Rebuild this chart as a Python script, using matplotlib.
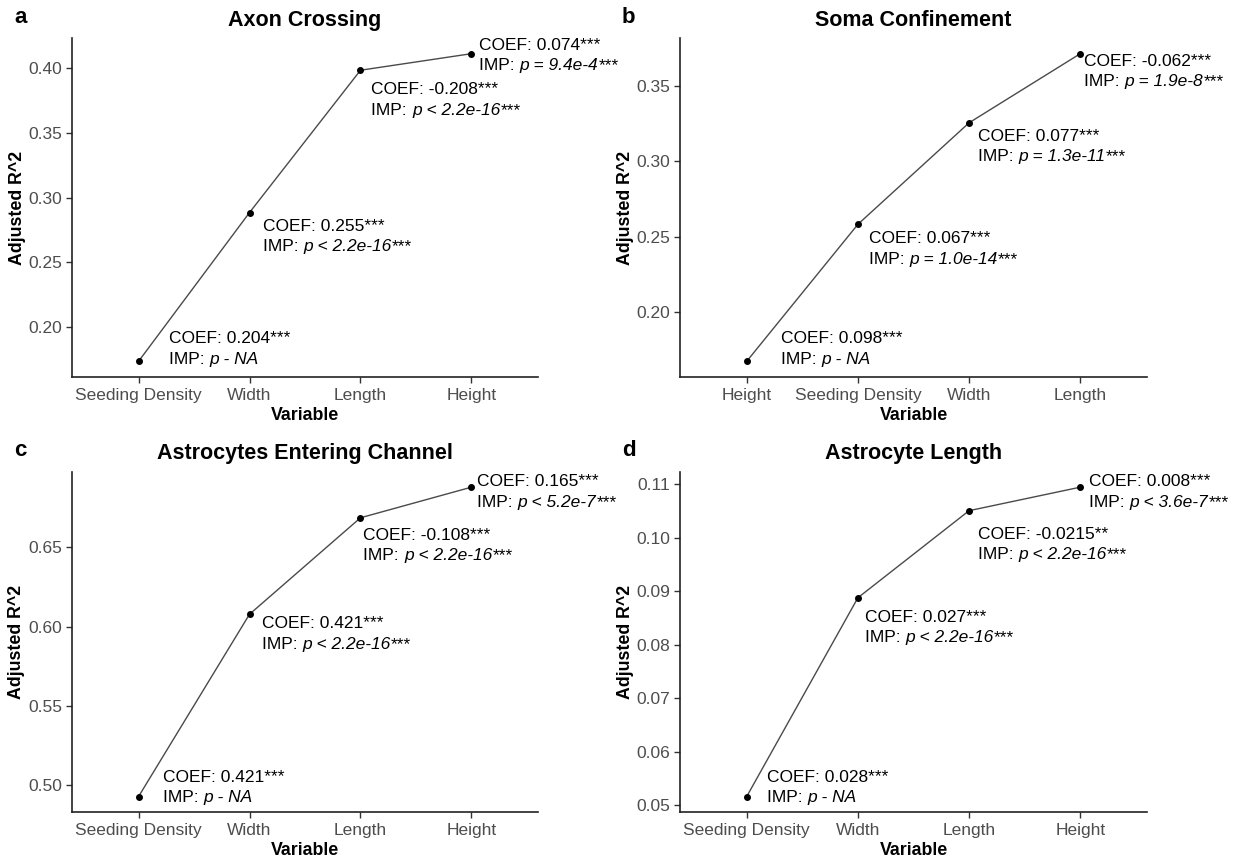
import matplotlib
matplotlib.use("Agg")
import matplotlib.pyplot as plt
import numpy as np

plt.rcParams['font.family'] = ['Liberation Sans', 'DejaVu Sans']

# ---------------- data ----------------
titles = ["Axon Crossing", "Soma Confinement", "Astrocytes Entering Channel", "Astrocyte Length"]
letters = ["a", "b", "c", "d"]

a_vars = ["Seeding Density", "Width", "Length", "Height"]
a_r2 = [0.1735, 0.2885, 0.3985, 0.4113]
a_coef = ["0.204***", "0.255***", "-0.208***", "0.074***"]
a_imp = ["p - NA", "p < 2.2e-16", "p < 2.2e-16", "p = 9.4e-4"]
a_star = ["", "***", "***", "***"]
a_ticks = [0.20, 0.25, 0.30, 0.35, 0.40]

b_vars = ["Height", "Seeding Density", "Width", "Length"]
b_r2 = [0.1674, 0.2582, 0.3255, 0.3713]
b_coef = ["0.098***", "0.067***", "0.077***", "-0.062***"]
b_imp = ["p - NA", "p = 1.0e-14", "p = 1.3e-11", "p = 1.9e-8"]
b_star = ["", "***", "***", "***"]
b_ticks = [0.20, 0.25, 0.30, 0.35]

c_vars = ["Seeding Density", "Width", "Length", "Height"]
c_r2 = [0.4929, 0.6078, 0.6686, 0.6879]
c_coef = ["0.421***", "0.421***", "-0.108***", "0.165***"]
c_imp = ["p - NA", "p < 2.2e-16", "p < 2.2e-16", "p < 5.2e-7"]
c_star = ["", "***", "***", "***"]
c_ticks = [0.50, 0.55, 0.60, 0.65]

d_vars = ["Seeding Density", "Width", "Length", "Height"]
d_r2 = [0.0516, 0.0888, 0.1051, 0.1095]
d_coef = ["0.028***", "0.027***", "-0.0215**", "0.008***"]
d_imp = ["p - NA", "p < 2.2e-16", "p < 2.2e-16", "p < 3.6e-7"]
d_star = ["", "***", "***", "***"]
d_ticks = [0.05, 0.06, 0.07, 0.08, 0.09, 0.10, 0.11]

# ---------------- layout (pixels) ----------------
W, H = 1234, 863
DPI = 100
# label offsets (dx, dy_top) in pixels from each point
a_off = [(30, -30), (13, 6), (11, 12), (8, -16)]
b_off = [(34, -30), (11, 7), (9, 6), (4, 0)]
c_off = [(24, -27), (12, 2), (3, 10), (6, -13)]
d_off = [(20, -27), (7, 12), (9, 16), (9, -13)]

panels = [
    dict(vars=a_vars, r2=a_r2, coef=a_coef, imp=a_imp, star=a_star, ticks=a_ticks, off=a_off,
         box=(72, 538, 38.3, 376.7), fmt="%.2f"),
    dict(vars=b_vars, r2=b_r2, coef=b_coef, imp=b_imp, star=b_star, ticks=b_ticks, off=b_off,
         box=(680, 1147, 38.3, 376.7), fmt="%.2f"),
    dict(vars=c_vars, r2=c_r2, coef=c_coef, imp=c_imp, star=c_star, ticks=c_ticks, off=c_off,
         box=(72, 538, 471.7, 812), fmt="%.2f"),
    dict(vars=d_vars, r2=d_r2, coef=d_coef, imp=d_imp, star=d_star, ticks=d_ticks, off=d_off,
         box=(680, 1147, 471.7, 812), fmt="%.2f"),
]

fig = plt.figure(figsize=(W / DPI, H / DPI), dpi=DPI)
PX = 72.0 / DPI  # points per pixel
FS = 12.5
LINE = 20.5  # pixel spacing between the two label lines

for i, p in enumerate(panels):
    l, r, t, b = p["box"]
    ax = fig.add_axes([l / W, 1 - b / H, (r - l) / W, (b - t) / H])
    x = np.arange(len(p["vars"]))
    ax.plot(x, p["r2"], color="#4a4a4a", lw=1.0, zorder=2)
    ax.scatter(x, p["r2"], s=16, color="black", zorder=3)
    ax.set_xlim(-0.6, len(x) - 1 + 0.6)
    ymin, ymax = min(p["r2"]), max(p["r2"])
    rng = ymax - ymin
    ax.set_ylim(ymin - 0.05 * rng, ymax + 0.05 * rng)
    ax.set_xticks(x)
    ax.set_xticklabels(p["vars"])
    ax.set_yticks(p["ticks"])
    ax.set_yticklabels([p["fmt"] % v for v in p["ticks"]])
    for s in ["top", "right"]:
        ax.spines[s].set_visible(False)
    for s in ["left", "bottom"]:
        ax.spines[s].set_color("#222222")
        ax.spines[s].set_linewidth(1.2)
    ax.tick_params(axis="both", length=4, width=1.0, color="#333333",
                   labelcolor="#4D4D4D", labelsize=FS, pad=3)
    ax.tick_params(axis="x", pad=4)
    ax.set_xlabel("Variable", fontsize=12.8, fontweight="bold", labelpad=3)
    ax.set_ylabel("Adjusted R^2", fontsize=12.8, fontweight="bold", labelpad=2)
    ax.set_title(titles[i], fontsize=15.5, fontweight="bold", pad=9)

    # panel letter
    fig.text((l - 58) / W, 1 - (t - 21) / H, letters[i], fontsize=16, fontweight="bold",
             ha="left", va="center")

    for j in range(len(x)):
        dx, dy = p["off"][j]
        ax.annotate("COEF: " + p["coef"][j], xy=(x[j], p["r2"][j]),
                    xytext=(dx * PX, -dy * PX), textcoords="offset points",
                    ha="left", va="top", fontsize=FS, color="black", zorder=4)
        t1 = ax.annotate("IMP: ", xy=(x[j], p["r2"][j]),
                         xytext=(dx * PX, -(dy + LINE) * PX), textcoords="offset points",
                         ha="left", va="top", fontsize=FS, color="black", zorder=4)
        t2 = ax.annotate(p["imp"][j], xy=(1, 0), xycoords=t1, ha="left", va="bottom",
                         fontsize=FS, style="italic", color="black", zorder=4,
                         annotation_clip=False)
        if p["star"][j]:
            ax.annotate(p["star"][j], xy=(1, 0), xycoords=t2, ha="left", va="bottom",
                        fontsize=FS, color="black", zorder=4, annotation_clip=False)
    for txt in ax.texts:
        txt.set_clip_on(False)

fig.savefig("out.png", dpi=DPI)
